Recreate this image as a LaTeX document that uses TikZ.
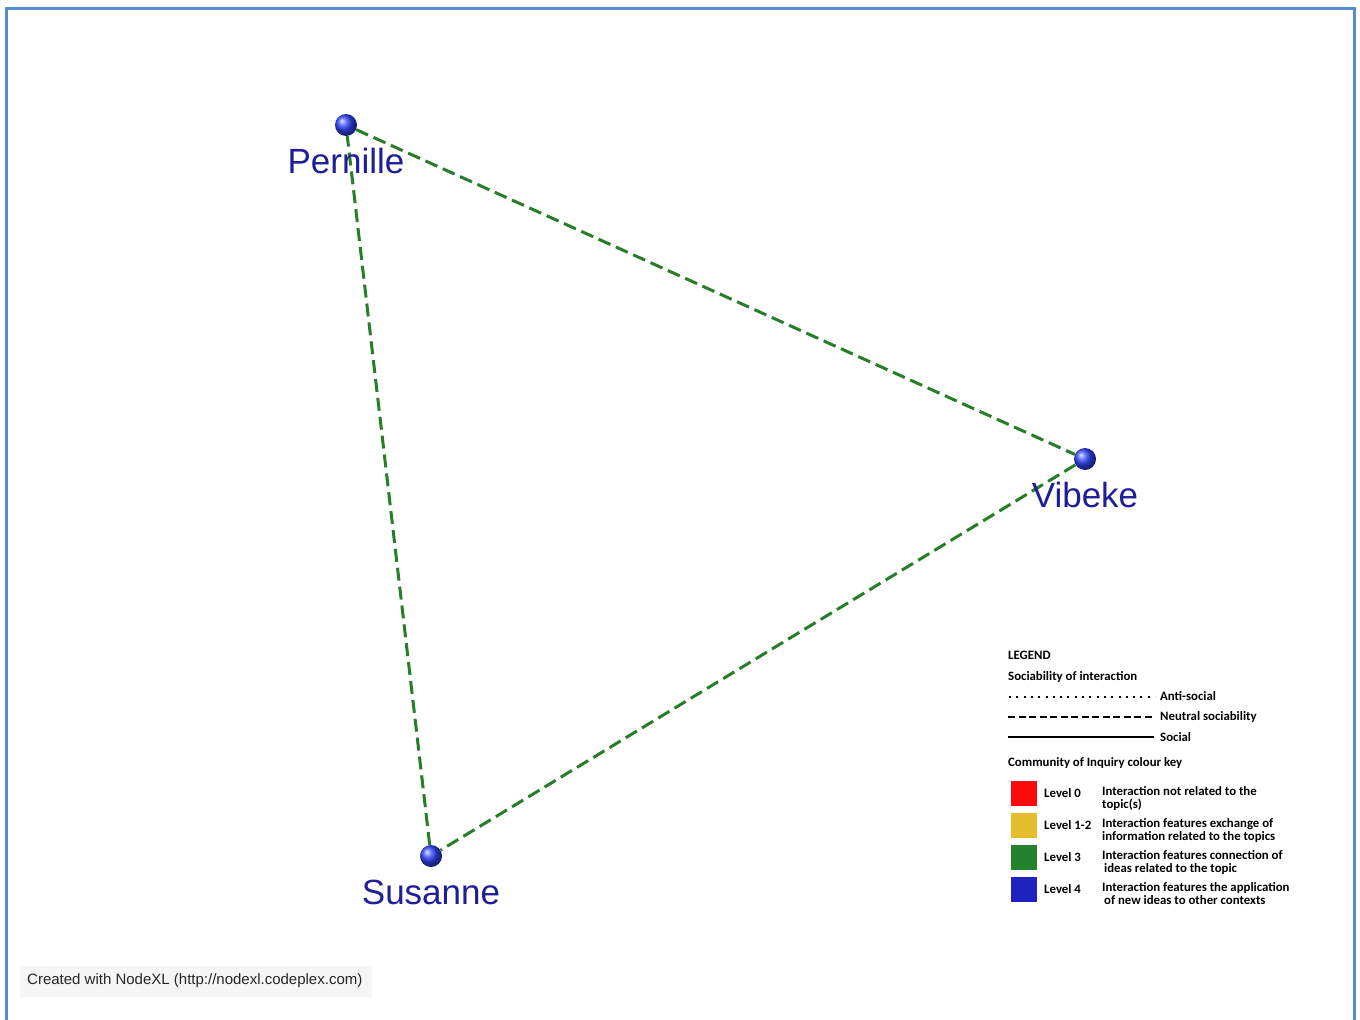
\documentclass[tikz,border=0pt]{standalone}
\usepackage{fontspec}
\setmainfont{Liberation Sans}
\newfontfamily\legfont{Carlito}
\begin{document}
\begin{tikzpicture}[x=1pt,y=-1pt,
  vertex/.style={circle,minimum size=22pt,inner sep=0pt,ball color=ballblue},
  vlabel/.style={text=labelblue,font=\fontsize{35}{38}\selectfont,inner sep=0pt},
  edge/.style={draw=edgegreen,line width=3pt,dash pattern=on 13pt off 6pt},
  legtext/.style={font=\legfont\bfseries\fontsize{12.8}{14}\selectfont,inner sep=0pt,anchor=west},
  legdesc/.style={font=\legfont\bfseries\fontsize{12.8}{13}\selectfont,inner sep=0pt,anchor=north west,align=left},
  keybox/.style={minimum width=26pt,minimum height=25pt,inner sep=0pt,draw=none}]
\definecolor{ballblue}{RGB}{50,70,255}
\definecolor{labelblue}{RGB}{30,30,150}
\definecolor{edgegreen}{RGB}{40,125,40}
\definecolor{frameblue}{RGB}{85,140,210}
\definecolor{lvred}{RGB}{250,10,10}
\definecolor{lvyellow}{RGB}{230,190,45}
\definecolor{lvgreen}{RGB}{35,130,45}
\definecolor{lvblue}{RGB}{30,35,190}
\useasboundingbox (0,0) rectangle (1360,1020);
\fill[white] (0,0) rectangle (1360,1020);
% frame
\draw[frameblue,line width=3pt] (6,1030) -- (6,8) -- (1354,8) -- (1354,1030);
% vertices
\node[vertex] (p) at (346,125) {};
\node[vertex] (v) at (1085,459) {};
\node[vertex] (s) at (431,856) {};
% edges
\draw[edge] (p) -- (v);
\draw[edge] (v) -- (s);
\draw[edge] (s) -- (p);
% labels
\node[vlabel] (pl) at (346,161) {Pernille};
\node[vlabel] (vl) at (1085,495) {Vibeke};
\node[vlabel] (sl) at (431,892) {Susanne};
% legend
\node[legtext] (lg) at (1008,655) {LEGEND};
\node[legtext] (soc) at (1008,677) {Sociability of interaction};
\coordinate (d1) at (1009,697); \coordinate (d2) at (1155,697);
\draw[line width=2.2pt,dash pattern=on 2pt off 5.3pt] (d1) -- (d2);
\node[legtext] (anti) at (1160,696) {Anti-social};
\coordinate (n1) at (1008,717); \coordinate (n2) at (1155,717);
\draw[line width=2.2pt,dash pattern=on 7pt off 3.5pt] (n1) -- (n2);
\node[legtext] (neut) at (1160,717) {Neutral sociability};
\coordinate (s1) at (1008,737); \coordinate (s2) at (1154,737);
\draw[line width=2.8pt] (s1) -- (s2);
\node[legtext] (socl) at (1160,737) {Social};
\node[legtext] (coi) at (1008,763) {Community of Inquiry colour key};
\node[keybox,fill=lvred] (k0) at (1024,793.5) {};
\node[keybox,fill=lvyellow] (k1) at (1024,825.5) {};
\node[keybox,fill=lvgreen] (k3) at (1024,857.5) {};
\node[keybox,fill=lvblue] (k4) at (1024,889.5) {};
\node[legtext] (l0) at (1044,793) {Level 0};
\node[legtext] (l1) at (1044,825) {Level 1-2};
\node[legtext] (l3) at (1044,857) {Level 3};
\node[legtext] (l4) at (1044,889) {Level 4};
\node[legdesc] (t0) at (1102,786.5) {Interaction not related to the\\topic(s)};
\node[legdesc] (t1) at (1102,818.5) {Interaction features exchange of\\information related to the topics};
\node[legdesc] (t3) at (1102,850.5) {Interaction features connection of\\\hspace*{2pt}ideas related to the topic};
\node[legdesc] (t4) at (1102,882.5) {Interaction features the application\\\hspace*{2pt}of new ideas to other contexts};
% footer
\fill[black!4] (20,966) rectangle (372,997);
\node[anchor=west,inner sep=0pt,font=\fontsize{15}{17}\selectfont,text=black!85] (ft) at (27,981) {Created with NodeXL (http://nodexl.codeplex.com)};
\end{tikzpicture}
\end{document}
